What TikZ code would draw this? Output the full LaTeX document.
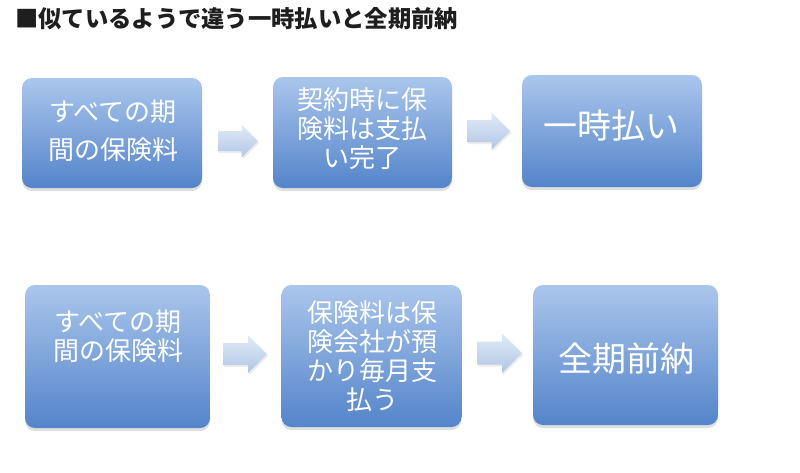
\documentclass[tikz,border=0pt]{standalone}
\usepackage{fontspec}
\setmainfont{Noto Sans CJK JP}
\usetikzlibrary{shadows}
\definecolor{boxtop}{RGB}{170,198,236}
\definecolor{boxbot}{RGB}{84,132,202}
\definecolor{arrtop}{RGB}{226,235,247}
\definecolor{arrbot}{RGB}{176,197,229}
\definecolor{titlecol}{RGB}{30,30,30}
% block arrow: center x, center y, length, head width, shaft height
\newcommand\myblockarrow[5]{%
  \path[blockarrow] (#1-#3/2,#2-#5/2) -- (#1+#3/2-#4/2,#2-#5/2) -- (#1+#3/2-#4/2,#2-#4/2)
    -- (#1+#3/2,#2) -- (#1+#3/2-#4/2,#2+#4/2) -- (#1+#3/2-#4/2,#2+#5/2)
    -- (#1-#3/2,#2+#5/2) -- cycle;}
\begin{document}
\begin{tikzpicture}[x=1pt,y=-1pt,
  box/.style={rounded corners=10pt, top color=boxtop, bottom color=boxbot, draw=none,
    inner sep=0pt, drop shadow={opacity=0.25, shadow xshift=0pt, shadow yshift=-3pt}},
  boxtext/.style={text=white, align=center, inner sep=0pt},
  small/.style={font=\fontsize{26}{29}\selectfont},
  big/.style={font=\fontsize{34}{40}\selectfont},
  blockarrow/.style={top color=arrtop, bottom color=arrbot, draw=none, line join=round,
    drop shadow={opacity=0.15, shadow xshift=1pt, shadow yshift=-2pt}}
]
\useasboundingbox[fill=white] (0,0) rectangle (800,472);

\node[anchor=west, text=titlecol, inner sep=0pt, font=\fontsize{23.3}{27}\selectfont\bfseries] (title) at (15,19) {■似ているようで違う一時払いと全期前納};

% top row
\node[box, minimum width=180pt, minimum height=110pt] (b1) at (112,133) {};
\node[boxtext, font=\fontsize{26}{38}\selectfont] (t1) at (113,131) {すべての期\\間の保険料};
\node[box, minimum width=179pt, minimum height=111pt] (b2) at (362.5,132.5) {};
\node[boxtext, small] (t2) at (362,129) {契約時に保\\険料は支払\\い完了};
\node[box, minimum width=180pt, minimum height=112pt] (b3) at (612,131) {};
\node[boxtext, big] (t3) at (611,126) {一時払い};

\myblockarrow{238}{141}{40}{33}{20}
\myblockarrow{488.5}{131}{43}{37}{22}

% bottom row
\node[box, minimum width=185pt, minimum height=143pt] (b4) at (117.5,356.5) {};
\node[boxtext, small] (t4) at (118,336) {すべての期\\間の保険料};
\node[box, minimum width=180pt, minimum height=142pt] (b5) at (371.5,356) {};
\node[boxtext, small] (t5) at (372,356) {保険料は保\\険会社が預\\かり毎月支\\払う};
\node[box, minimum width=185pt, minimum height=140pt] (b6) at (625.5,355) {};
\node[boxtext, big] (t6) at (626,359) {全期前納};

\myblockarrow{245}{354}{44}{38}{22}
\myblockarrow{499.5}{353}{45}{40}{23}
\end{tikzpicture}
\end{document}
